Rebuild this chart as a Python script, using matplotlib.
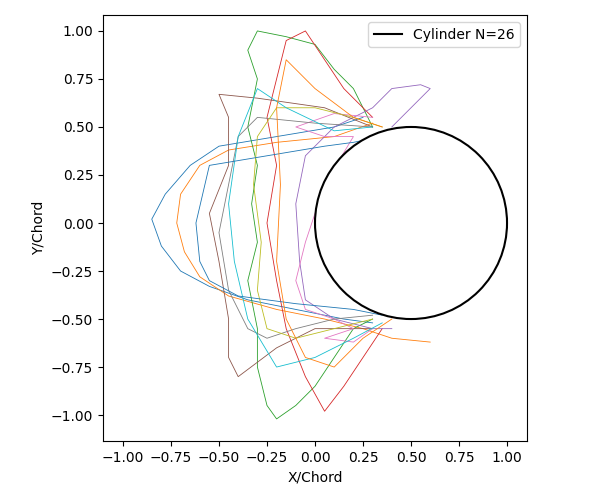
import matplotlib.pyplot as plt
from matplotlib.patches import Circle

# hand-read traces (x, y) in chord units
trace_x = [
    [0.25, 0.1, -0.2, -0.5, -0.65, -0.78, -0.85, -0.8, -0.7, -0.55, -0.35, -0.1, 0.15, 0.3],
    [0.3, 0.1, -0.2, -0.45, -0.6, -0.7, -0.72, -0.68, -0.6, -0.45, -0.2, 0.05, 0.25, 0.4, 0.6],
    [0.3, 0.2, 0.1, 0.0, -0.15, -0.3, -0.35, -0.3, -0.35, -0.3, -0.33, -0.3, -0.35, -0.3, -0.3, -0.25, -0.2, -0.1, 0.0, 0.1, 0.2, 0.3],
    [0.3, 0.15, 0.05, -0.05, -0.15, -0.2, -0.25, -0.2, -0.25, -0.2, -0.15, -0.05, 0.05, 0.15, 0.25, 0.35],
    [0.4, 0.5, 0.6, 0.55, 0.4, 0.3, 0.1, -0.05, -0.1, -0.08, -0.05, 0.1, 0.3, 0.4],
    [0.3, 0.05, -0.3, -0.5, -0.45, -0.45, -0.55, -0.5, -0.45, -0.45, -0.4, -0.2, 0.0, 0.3],
    [0.3, 0.1, -0.1, 0.05, 0.2, 0.05, -0.05, -0.1, -0.05, 0.1, 0.2, 0.05, 0.2, 0.3],
    [0.3, 0.0, -0.3, -0.4, -0.45, -0.5, -0.45, -0.35, -0.25, -0.1, 0.1, 0.3],
    [0.35, 0.2, 0.0, -0.2, -0.3, -0.32, -0.28, -0.3, -0.25, -0.1, 0.1, 0.3],
    [0.3, 0.1, -0.15, -0.3, -0.4, -0.45, -0.42, -0.35, -0.2, 0.0, 0.2, 0.35],
    [0.35, 0.2, 0.05, -0.55, -0.62, -0.6, -0.55, -0.4, -0.1, 0.2, 0.35],
    [0.35, 0.2, 0.0, -0.15, -0.2, -0.18, -0.2, -0.15, -0.05, 0.1, 0.25, 0.4],
]
trace_y = [
    [0.55, 0.5, 0.45, 0.4, 0.3, 0.15, 0.02, -0.12, -0.25, -0.33, -0.4, -0.45, -0.5, -0.52],
    [0.52, 0.45, 0.42, 0.38, 0.3, 0.15, 0.0, -0.15, -0.28, -0.38, -0.45, -0.5, -0.55, -0.6, -0.62],
    [0.5, 0.7, 0.8, 0.93, 0.97, 1.0, 0.9, 0.75, 0.5, 0.3, 0.1, -0.1, -0.3, -0.55, -0.75, -0.95, -1.02, -0.95, -0.85, -0.7, -0.55, -0.5],
    [0.55, 0.7, 0.85, 1.0, 0.95, 0.75, 0.55, 0.3, 0.0, -0.3, -0.55, -0.8, -0.98, -0.85, -0.7, -0.55],
    [0.5, 0.6, 0.7, 0.72, 0.7, 0.6, 0.5, 0.35, 0.1, -0.2, -0.4, -0.5, -0.55, -0.55],
    [0.5, 0.6, 0.65, 0.67, 0.55, 0.3, 0.05, -0.2, -0.5, -0.7, -0.8, -0.65, -0.55, -0.55],
    [0.55, 0.57, 0.5, 0.45, 0.45, 0.2, -0.1, -0.3, -0.45, -0.5, -0.55, -0.6, -0.62, -0.55],
    [0.5, 0.52, 0.55, 0.45, 0.2, -0.05, -0.35, -0.55, -0.6, -0.55, -0.5, -0.48],
    [0.5, 0.55, 0.6, 0.6, 0.45, 0.2, -0.1, -0.35, -0.55, -0.6, -0.55, -0.5],
    [0.5, 0.48, 0.6, 0.7, 0.45, 0.1, -0.2, -0.5, -0.75, -0.7, -0.6, -0.52],
    [0.45, 0.42, 0.4, 0.3, 0.0, -0.2, -0.3, -0.38, -0.42, -0.45, -0.48],
    [0.5, 0.55, 0.7, 0.85, 0.6, 0.2, -0.2, -0.5, -0.7, -0.75, -0.6, -0.5],
]
cyl_center = (0.5, 0.0)
cyl_radius = 0.5

fig = plt.figure(figsize=(6, 5), dpi=100)
ax = fig.add_axes([103 / 600, 59 / 500, 424 / 600, 426 / 500])
for xs, ys in zip(trace_x, trace_y):
    ax.plot(xs, ys, linewidth=0.6)
circle = Circle(cyl_center, cyl_radius, facecolor="white", edgecolor="black", linewidth=1.5, zorder=5)
ax.add_patch(circle)
ax.plot([], [], color="black", label="Cylinder N=26")
ax.set_xlim(-1.104, 1.104)
ax.set_ylim(-1.135, 1.083)
ax.set_aspect("equal", adjustable="datalim")
ax.set_xticks([-1.0, -0.75, -0.5, -0.25, 0.0, 0.25, 0.5, 0.75, 1.0])
ax.set_yticks([-1.0, -0.75, -0.5, -0.25, 0.0, 0.25, 0.5, 0.75, 1.0])
ax.set_xlabel("X/Chord")
ax.set_ylabel("Y/Chord")
ax.legend(loc="upper right")
fig.savefig("out.png", dpi=100)
